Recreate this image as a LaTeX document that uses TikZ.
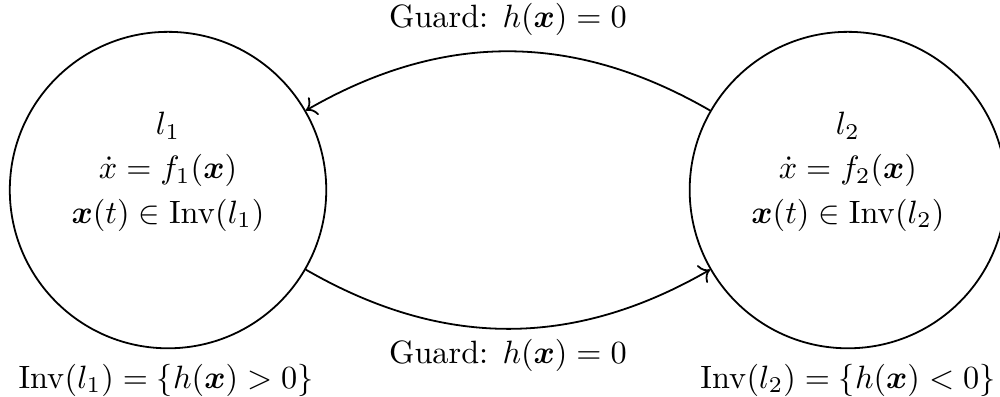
\documentclass[tikz,border=0pt]{standalone}
\usepackage{amsmath}
\usepackage{bm}
\usetikzlibrary{arrows.meta, positioning}
\begin{document}
\begin{tikzpicture}[
  line width=0.5pt,
  loc/.style={draw, circle, minimum size=3.1cm, inner sep=0pt},
  txt/.style={scale=0.9, transform shape, font=\fontsize{10}{13.7}\selectfont},
  body/.style={txt, align=center},
  arr/.style={->},
]
\useasboundingbox (-1.646,-2.019) rectangle (8.15,1.862);
\node[loc]  (l1)  at (0,0)     {};
\node[loc]  (l2)  at (6.66,0)  {};
\node[body] (b1)  at (0,0.18)    {$l_1$\\ $\dot{x} = f_1(\bm{x})$\\ $\bm{x}(t) \in \mathrm{Inv}(l_1)$};
\node[body] (b2)  at (6.66,0.18) {$l_2$\\ $\dot{x} = f_2(\bm{x})$\\ $\bm{x}(t) \in \mathrm{Inv}(l_2)$};
\node[txt] (inv1) at (-0.02,-1.86) {$\mathrm{Inv}(l_1) = \{h(\bm{x}) > 0\}$};
\node[txt] (inv2) at (6.66,-1.86)  {$\mathrm{Inv}(l_2) = \{h(\bm{x}) < 0\}$};
\draw[arr] (l2.150) to[bend right=30] (l1.30);
\draw[arr] (l1.-30) to[bend right=30] (l2.210);
\node[txt] (gtop) at (3.33,1.67)  {Guard: $h(\bm{x}) = 0$};
\node[txt] (gbot) at (3.33,-1.62) {Guard: $h(\bm{x}) = 0$};
\end{tikzpicture}
\end{document}
